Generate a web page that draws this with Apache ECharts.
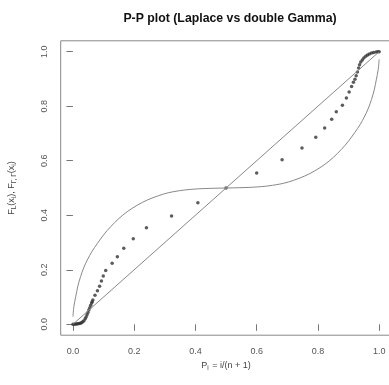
<!DOCTYPE html>
<html><head><meta charset="utf-8">
<script src="https://cdn.jsdelivr.net/npm/echarts@6/dist/echarts.min.js"></script>
<style>html,body{margin:0;padding:0;background:#fff}#c{width:389px;height:385px}</style>
</head><body><div id="c"></div>
<script>
const titleText = 'P-P plot (Laplace vs double Gamma)';
const tickValues = [0, 0.2, 0.4, 0.6, 0.8, 1.0];
const diagX = [0, 1];
const diagY = [0, 1];
const curveX = [0.000, 0.003, 0.009, 0.016, 0.025, 0.035, 0.047, 0.062, 0.080, 0.100, 0.123, 0.150, 0.177, 0.210, 0.243, 0.280, 0.313, 0.360, 0.410, 0.460, 0.500, 0.540, 0.590, 0.640, 0.687, 0.720, 0.757, 0.790, 0.823, 0.850, 0.877, 0.900, 0.920, 0.938, 0.953, 0.965, 0.975, 0.984, 0.991, 0.997, 1.000];
const curveY = [0.028, 0.065, 0.101, 0.140, 0.175, 0.207, 0.236, 0.267, 0.297, 0.328, 0.358, 0.388, 0.413, 0.437, 0.456, 0.472, 0.483, 0.492, 0.497, 0.499, 0.500, 0.501, 0.503, 0.508, 0.517, 0.528, 0.544, 0.563, 0.587, 0.612, 0.642, 0.672, 0.703, 0.733, 0.764, 0.793, 0.825, 0.860, 0.899, 0.935, 0.972];
const pointsX = [0.000, 0.004, 0.008, 0.012, 0.016, 0.020, 0.024, 0.028, 0.032, 0.036, 0.040, 0.043, 0.046, 0.049, 0.052, 0.055, 0.058, 0.061, 0.063, 0.065, 0.072, 0.080, 0.087, 0.093, 0.099, 0.107, 0.128, 0.145, 0.166, 0.197, 0.240, 0.322, 0.408, 0.500, 0.600, 0.683, 0.748, 0.793, 0.822, 0.845, 0.860, 0.880, 0.893, 0.902, 0.910, 0.916, 0.921, 0.925, 0.929, 0.933, 0.936, 0.940, 0.945, 0.950, 0.956, 0.962, 0.968, 0.975, 0.982, 0.990, 0.996, 1.000];
const pointsY = [0.000, 0.000, 0.001, 0.001, 0.002, 0.003, 0.004, 0.006, 0.009, 0.013, 0.020, 0.027, 0.035, 0.043, 0.052, 0.061, 0.070, 0.078, 0.083, 0.089, 0.107, 0.123, 0.140, 0.159, 0.177, 0.197, 0.224, 0.248, 0.279, 0.314, 0.354, 0.397, 0.446, 0.500, 0.555, 0.604, 0.647, 0.686, 0.720, 0.752, 0.780, 0.804, 0.830, 0.852, 0.872, 0.888, 0.899, 0.912, 0.926, 0.940, 0.952, 0.962, 0.970, 0.977, 0.983, 0.988, 0.992, 0.995, 0.997, 0.999, 1.000, 1.000];

const pairs = (xs, ys) => xs.map((x, i) => [x, ys[i]]);
const chart = echarts.init(document.getElementById('c'), null, {renderer: 'canvas'});
const FONT = 'Liberation Sans, Arial, sans-serif';
const axisCommon = {
  type: 'value', min: -0.04, max: 1.04,
  axisLine: {show: false},
  splitLine: {show: false},
  axisTick: {show: true, customValues: tickValues, length: 6.5, inside: false, lineStyle: {color: '#777', width: 1}},
  axisLabel: {customValues: tickValues, formatter: v => v.toFixed(1), color: '#555', fontSize: 9, fontFamily: FONT, margin: 12}
};
chart.setOption({
  animation: false,
  backgroundColor: '#fff',
  title: {text: titleText, left: 225, top: 8, textAlign: 'center',
    textStyle: {fontSize: 12.3, fontWeight: 'bold', color: '#111', fontFamily: FONT}},
  grid: {left: 60.7, top: 40.8, width: 330.7, height: 294.4, show: true, borderColor: '#888', borderWidth: 1, outerBoundsMode: 'none', containLabel: false},
  xAxis: Object.assign({}, axisCommon, {
    position: 'bottom',
    name: '{n|P}{s|i}{n| = i/(n + 1)}', nameLocation: 'middle', nameGap: 24,
    nameTextStyle: {rich: {
      n: {fontSize: 9, color: '#444', fontFamily: FONT},
      s: {fontSize: 6.5, color: '#444', fontFamily: FONT, padding: [5, 1, 0, 0]}
    }}
  }),
  yAxis: Object.assign({}, axisCommon, {
    position: 'left',
    axisLabel: Object.assign({}, axisCommon.axisLabel, {rotate: 90}),
    name: '{n|F}{s|L}{n|(x}{s|i}{n|), F}{s|Γ, Γ}{n|(x}{s|i}{n|)}', nameLocation: 'middle', nameGap: 43, nameRotate: 90,
    nameTextStyle: {rich: {
      n: {fontSize: 9, color: '#444', fontFamily: FONT},
      s: {fontSize: 6.5, color: '#444', fontFamily: FONT, padding: [5, 0, 0, 0]}
    }}
  }),
  series: [
    {type: 'line', data: pairs(diagX, diagY), symbol: 'none', silent: true, lineStyle: {color: '#888', width: 1}},
    {type: 'line', data: pairs(curveX, curveY), symbol: 'none', smooth: 0.3, silent: true, lineStyle: {color: '#888', width: 1}},
    {type: 'scatter', data: pairs(pointsX, pointsY), symbol: 'circle', symbolSize: 3.5, itemStyle: {color: '#333'}, silent: true}
  ]
});
</script></body></html>
